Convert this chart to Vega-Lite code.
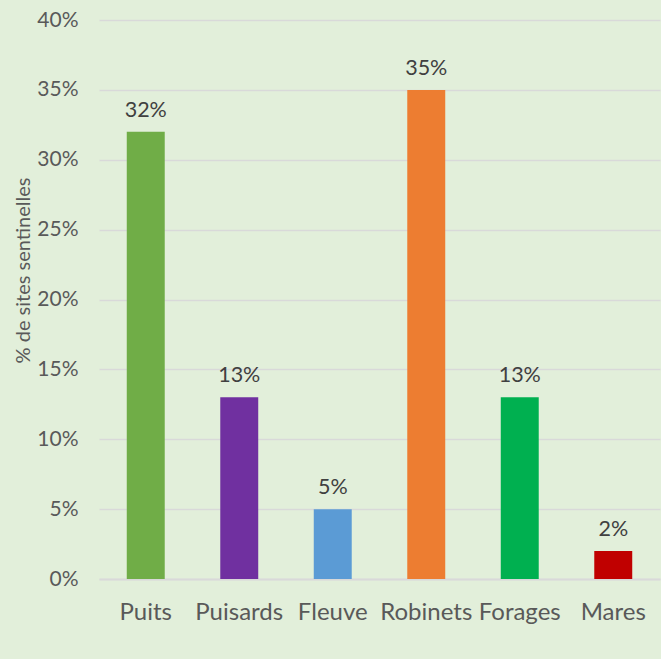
{
  "$schema": "https://vega.github.io/schema/vega-lite/v6.json",
  "width": 561,
  "height": 559,
  "autosize": {"type": "none"},
  "padding": {"left": 99, "top": 20, "right": 1, "bottom": 80},
  "background": "#e2efda",
  "config": {
    "view": {"stroke": null},
    "font": "Lato",
    "axis": {"labelFont": "Lato", "titleFont": "Lato", "labelColor": "#595959", "titleColor": "#595959"}
  },
  "data": {
    "values": [
      {"source": "Puits", "pct": 0.32, "color": "#70ad47"},
      {"source": "Puisards", "pct": 0.13, "color": "#7030a0"},
      {"source": "Fleuve", "pct": 0.05, "color": "#5b9bd5"},
      {"source": "Robinets", "pct": 0.35, "color": "#ed7d31"},
      {"source": "Forages", "pct": 0.13, "color": "#00b050"},
      {"source": "Mares", "pct": 0.02, "color": "#c00000"}
    ]
  },
  "encoding": {
    "x": {
      "field": "source",
      "type": "nominal",
      "sort": null,
      "scale": {"paddingInner": 0.594, "paddingOuter": 0.297},
      "axis": {
        "title": null,
        "labelAngle": 0,
        "labelFontSize": 24,
        "labelPadding": 21,
        "ticks": false,
        "domain": true,
        "domainColor": "#d9d9d9",
        "domainWidth": 2,
        "labelOverlap": false
      }
    },
    "y": {
      "field": "pct",
      "type": "quantitative",
      "scale": {"domain": [0, 0.4], "nice": false},
      "axis": {
        "title": "% de sites sentinelles",
        "titleFontSize": 20,
        "titleFontWeight": "normal",
        "titleBaseline": "alphabetic",
        "titleX": -70,
        "titleY": 250,
        "values": [0, 0.05, 0.1, 0.15, 0.2, 0.25, 0.3, 0.35, 0.4],
        "format": ".0%",
        "labelFontSize": 21,
        "labelPadding": 21,
        "ticks": false,
        "domain": false,
        "gridColor": "#d9d9d9",
        "gridWidth": 1.5
      }
    }
  },
  "layer": [
    {
      "mark": {"type": "bar"},
      "encoding": {
        "color": {"field": "color", "type": "nominal", "scale": null, "legend": null}
      }
    },
    {
      "mark": {"type": "text", "dy": -15, "baseline": "alphabetic", "fontSize": 21.5, "color": "#404040", "font": "Lato"},
      "encoding": {
        "text": {"field": "pct", "type": "quantitative", "format": ".0%"}
      }
    }
  ]
}
